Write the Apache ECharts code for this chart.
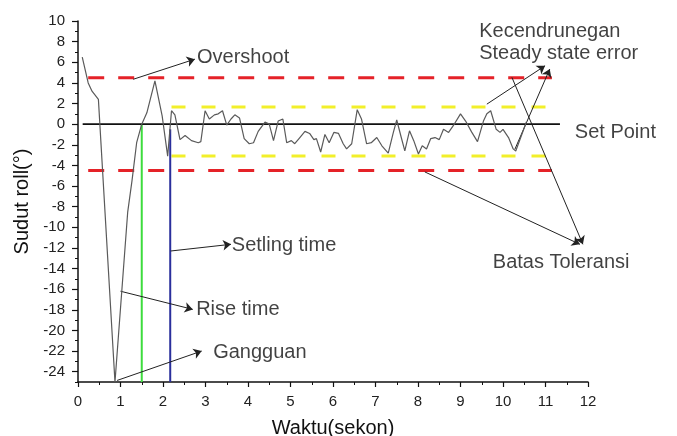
<!DOCTYPE html>
<html>
<head>
<meta charset="utf-8">
<script src="https://cdn.jsdelivr.net/npm/echarts@6/dist/echarts.min.js"></script>
<style>
html,body{margin:0;padding:0;background:#fff;}
#main{width:677px;height:436px;}
</style>
</head>
<body>
<div id="main"></div>
<script>
// ---- data ----
const timeX = [0.1, 0.24, 0.33, 0.48, 0.87, 1.17, 1.27, 1.38, 1.5, 1.62, 1.81, 1.98, 2.11, 2.2, 2.28, 2.4, 2.52, 2.67, 2.83, 2.89, 2.99, 3.09, 3.21, 3.3, 3.4, 3.5, 3.6, 3.69, 3.8, 3.91, 4.03, 4.13, 4.24, 4.4, 4.5, 4.6, 4.71, 4.82, 4.91, 5.02, 5.1, 5.22, 5.34, 5.45, 5.55, 5.61, 5.71, 5.81, 5.91, 6.02, 6.13, 6.24, 6.32, 6.44, 6.57, 6.67, 6.79, 6.9, 7.03, 7.15, 7.3, 7.42, 7.5, 7.6, 7.69, 7.8, 7.9, 8.01, 8.1, 8.2, 8.3, 8.4, 8.5, 8.6, 8.72, 8.83, 9.0, 9.12, 9.26, 9.4, 9.54, 9.62, 9.71, 9.84, 9.93, 10.0, 10.13, 10.24, 10.3, 10.55];
const rollY = [6.5, 4.0, 3.2, 2.4, -25, -8.5, -5.5, -1.8, 0, 1.1, 4.2, 0.8, -3.1, 1.3, 0.9, -1.5, -1.1, -1.6, -1.8, -1.7, 1.3, 0.5, 0.9, 1.0, 1.3, -0.1, 0.5, 0.9, 0.6, -1.4, -1.9, -1.8, -0.7, 0.2, 0, -1.6, 0.3, 0.5, -1.8, -1.6, -1.9, -1.3, -0.7, -0.9, -1.5, -1.4, -2.7, -1.0, -1.8, -0.8, -0.9, -1.9, -2.4, -1.9, 1.4, 0.5, -1.9, -1.8, -1.3, -2.1, -2.8, -0.8, 0.4, -1.2, -2.6, -0.65, -1.6, -2.9, -2.1, -2.4, -1.4, -1.3, -1.5, -0.5, -0.8, -0.15, 1.0, 0.3, -0.75, -1.7, 0.3, 1.0, 1.3, -0.5, -0.8, -0.5, -1.3, -2.4, -2.6, 0.2];

const setPoint = 0;
const setPointRange = [0.11, 11.34];
const toleranceUpper = 4.5;
const toleranceLower = -4.5;
const toleranceRange = [0.24, 11.15];
const steadyUpper = 1.65;
const steadyLower = -3.1;
const steadyRange = [2.2, 11.17];
const riseTime = 1.5;
const riseTop = 0;
const settlingTime = 2.17;
const settlingTop = -0.5;

const xTickLabels = [0,1,2,3,4,5,6,7,8,9,10,11,12];
const yTickLabels = [-24,-22,-20,-18,-16,-14,-12,-10,-8,-6,-4,-2,0,2,4,6,8,10];
const yMinorTicks = [-25,-23,-21,-19,-17,-15,-13,-11,-9,-7,-5,-3,-1,1,3,5,7,9];

// annotation texts: [label, x, y] (left edge, middle)
const annotTexts = [
  ['Overshoot', 2.8, 6.5],
  ['Setling time', 3.62, -11.8],
  ['Rise time', 2.78, -17.95],
  ['Gangguan', 3.18, -22.1],
  ['Kecendrunegan', 9.44, 9.0],
  ['Steady state error', 9.44, 6.85],
  ['Set Point', 11.69, -0.85],
  ['Batas Toleransi', 9.76, -13.4]
];
// annotation arrows: [x1, y1, x2, y2] (from -> arrow head)
const annotArrows = [
  [1.3, 4.35, 2.75, 6.3],
  [2.18, -12.3, 3.6, -11.65],
  [1.0, -16.2, 2.7, -17.96],
  [0.92, -24.85, 2.91, -22.0],
  [9.62, 1.94, 10.99, 5.66],
  [10.28, -2.43, 11.1, 5.34],
  [8.16, -4.63, 11.81, -11.65],
  [10.21, 4.53, 11.88, -11.65]
];

const FONT = '"Liberation Sans", Arial, sans-serif';

const chart = echarts.init(document.getElementById('main'), null, {renderer:'canvas'});

function hline(y, range, color, width, type){
  return {type:'line', data:[[range[0], y],[range[1], y]], symbol:'none', silent:true,
    lineStyle:{color:color, width:width, type:type}, z:3};
}
function vline(x, top, color, width){
  return {type:'line', data:[[x, top],[x, -25]], symbol:'none', silent:true,
    lineStyle:{color:color, width:width}, z:3};
}

const option = {
  animation:false,
  backgroundColor:'#fff',
  grid:{left:78, right:89, top:21, bottom:54, containLabel:false, outerBoundsMode:'none'},
  xAxis:{
    type:'value', min:0, max:12, interval:1,
    name:'Waktu(sekon)', nameLocation:'middle', nameGap:36,
    nameTextStyle:{fontSize:20, color:'#111', fontFamily:FONT},
    axisLine:{show:true, onZero:false, lineStyle:{color:'#111', width:1.5}},
    axisTick:{show:true, inside:false, length:5, lineStyle:{color:'#111', width:1.2}},
    minorTick:{show:true, splitNumber:2, length:3, lineStyle:{color:'#111', width:1}},
    axisLabel:{fontSize:15, color:'#222', margin:12, fontFamily:FONT,
      customValues:xTickLabels},
    splitLine:{show:false}
  },
  yAxis:[{
    type:'value', min:-25, max:10, interval:1,
    name:'Sudut roll(°)', nameLocation:'middle', nameGap:42,
    nameTextStyle:{fontSize:20, color:'#111', fontFamily:FONT},
    axisLine:{show:true, onZero:false, lineStyle:{color:'#111', width:1.5}},
    axisTick:{show:true, inside:false, length:6, customValues:yTickLabels, lineStyle:{color:'#111', width:1.2}},
    axisLabel:{fontSize:15, color:'#222', margin:13, fontFamily:FONT, customValues:yTickLabels},
    splitLine:{show:false}
  },{
    type:'value', min:-25, max:10, interval:1, position:'left',
    axisLine:{show:false},
    axisTick:{show:true, inside:false, length:3, customValues:yMinorTicks, lineStyle:{color:'#111', width:1}},
    axisLabel:{show:false},
    splitLine:{show:false}
  }],
  series:[
    hline(toleranceUpper, toleranceRange, '#e52228', 3, [16,14]),
    hline(toleranceLower, toleranceRange, '#e52228', 3, [16,14]),
    hline(steadyUpper, steadyRange, '#f2ef2a', 3, [14,16]),
    hline(steadyLower, steadyRange, '#f2ef2a', 3, [14,16]),
    vline(riseTime, riseTop, '#3ddc3d', 2),
    vline(settlingTime, settlingTop, '#2a2f9c', 2),
    {
      type:'line', data:[[setPointRange[0], setPoint],[setPointRange[1], setPoint]], symbol:'none', silent:true,
      lineStyle:{color:'#111', width:1.6}, z:4,
      markLine:{
        silent:true, animation:false,
        symbol:['none','arrow'], symbolSize:8,
        label:{show:false},
        lineStyle:{color:'#222', width:1, type:'solid'},
        emphasis:{disabled:true},
        data: annotArrows.map(a => [{coord:[a[0],a[1]]},{coord:[a[2],a[3]]}])
      }
    },
    {
      type:'line', data: timeX.map((x,i)=>[x, rollY[i]]), symbol:'none', silent:true,
      lineStyle:{color:'#5a5a5a', width:1.2}, z:5
    },
    {
      type:'scatter', symbolSize:0, silent:true, clip:false, z:6,
      data: annotTexts.map(t => ({value:[t[1], t[2]], name:t[0]})),
      label:{show:true, position:'right', distance:0, formatter:p=>p.name,
        fontSize:20, color:'#111', fontFamily:FONT}
    }
  ]
};
chart.setOption(option);
</script>
</body>
</html>
